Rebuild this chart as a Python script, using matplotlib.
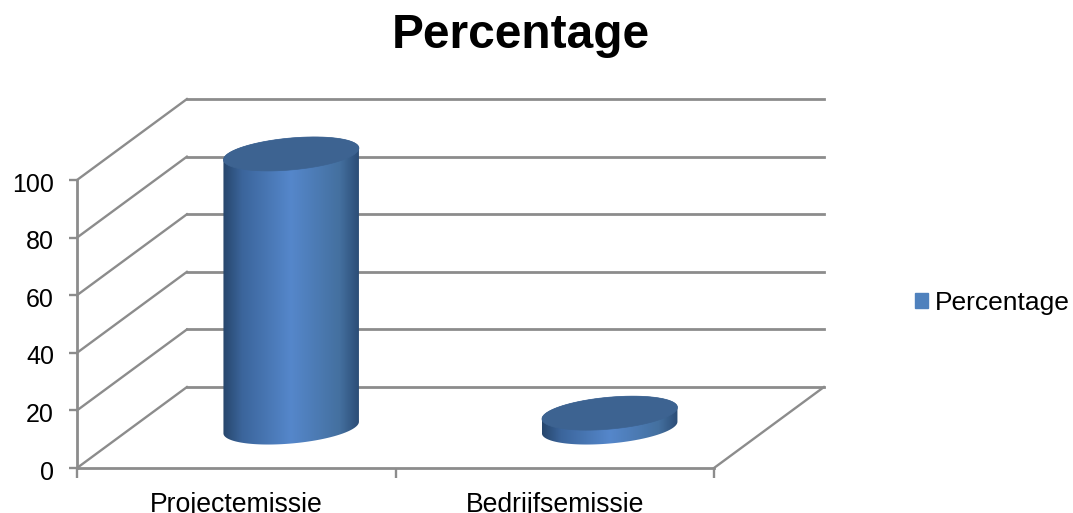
import numpy as np
import matplotlib
matplotlib.use("Agg")
import matplotlib.pyplot as plt
from matplotlib.colors import LinearSegmentedColormap
from matplotlib.patches import Patch, Polygon
from matplotlib.transforms import ScaledTranslation

plt.rcParams['font.family'] = ['Liberation Sans', 'DejaVu Sans']

# Data
categories = ["Projectemissie", "Bedrijfsemissie"]
percentages = [95, 5]
y_ticks = [0, 20, 40, 60, 80, 100]
series_name = "Percentage"

GRID = "#8c8c8c"
TOP = "#3d6391"
body_cmap = LinearSegmentedColormap.from_list(
    "body", [(0, "#27466c"), (0.14, "#3b659b"), (0.5, "#5587cb"), (0.86, "#44709f"), (1, "#2c4d77")])

# Oblique 3D depth and cylinder shape, in data units
depth_x = 0.345
depth_y = 28.1
k = 0.42
u = 0.2
v = k * depth_x / 2
w = k * depth_y / 2
t0 = np.arctan2(v, u)

fig = plt.figure(figsize=(10.73, 5.13), dpi=100)
ax = fig.add_axes([77 / 1073, 45 / 513, 637 / 1073, 288 / 513])
xmax = len(categories)
ax.set_xlim(0, xmax)
ax.set_ylim(0, 100)
ax.set_facecolor("none")


def ring(cx, cy, start, end):
    t = np.linspace(start, end, 80)
    return cx + u * np.cos(t) + v * np.sin(t), cy + w * np.sin(t)


# Walls and floor
for tick in y_ticks:
    ax.plot([0, depth_x], [tick, tick + depth_y], color=GRID, lw=1.7, clip_on=False, zorder=1)
    ax.plot([depth_x, xmax + depth_x], [tick + depth_y] * 2, color=GRID, lw=2, clip_on=False, zorder=1)
ax.plot([xmax, xmax + depth_x], [0, depth_y], color=GRID, lw=1.7, clip_on=False, zorder=1)

# Cylinders
gradient = np.linspace(0, 1, 256).reshape(1, -1)
half_width = np.hypot(u, v)
for i, value in enumerate(percentages):
    cx = i + 0.5 + depth_x / 2
    base = depth_y / 2
    top = base + value
    low_x, low_y = ring(cx, base, t0 + np.pi, t0 + 2 * np.pi)
    up_x, up_y = ring(cx, top, t0, t0 + np.pi)
    outline = Polygon(np.column_stack([np.r_[low_x, up_x], np.r_[low_y, up_y]]),
                      closed=True, transform=ax.transData, facecolor="none", edgecolor="none")
    ax.add_patch(outline)
    outline.set_clip_on(False)
    im = ax.imshow(gradient, cmap=body_cmap, aspect="auto", zorder=3,
                   extent=[cx - half_width, cx + half_width, base - w - 2, top + w + 2])
    # the image must reach above the axes box, the top of the cylinder sticks out
    im.set_clip_box(fig.bbox)
    im.set_clip_path(outline)
    top_x, top_y = ring(cx, top, 0, 2 * np.pi)
    ax.fill(top_x, top_y, color=TOP, zorder=4, clip_on=False, lw=0.5)

ax.set_xlim(0, xmax)
ax.set_ylim(0, 100)

# Axes
for side in ["top", "right"]:
    ax.spines[side].set_visible(False)
for side in ["left", "bottom"]:
    ax.spines[side].set_color(GRID)
    ax.spines[side].set_linewidth(2)
    ax.spines[side].set_zorder(2)
ax.set_yticks(y_ticks)
ax.set_xticks(np.arange(len(categories)) + 0.5)
ax.set_xticklabels(categories)
ax.set_xticks(np.arange(xmax + 1), minor=True)
ax.tick_params(axis="y", labelsize=18, color=GRID, width=1.7, length=6, pad=10.5)
ax.tick_params(axis="x", which="major", labelsize=19.2, length=0, pad=17)
ax.tick_params(axis="x", which="minor", color=GRID, width=1.7, length=7)
for label in ax.get_yticklabels():
    label.set_transform(label.get_transform() + ScaledTranslation(0, -2 / 100, fig.dpi_scale_trans))

fig.text(521 / 1073, 1 - 36 / 513, series_name, fontsize=34.5, fontweight="bold", ha="center", va="center")

fig.legend(handles=[Patch(color="#4f81bd", label=series_name)], loc="center left",
           bbox_to_anchor=(915 / 1073, 1 - 303 / 513), frameon=False, fontsize=19,
           borderpad=0, borderaxespad=0, handlelength=0.5, handleheight=0.5, handletextpad=0.25)

fig.savefig("out.png", dpi=100)
